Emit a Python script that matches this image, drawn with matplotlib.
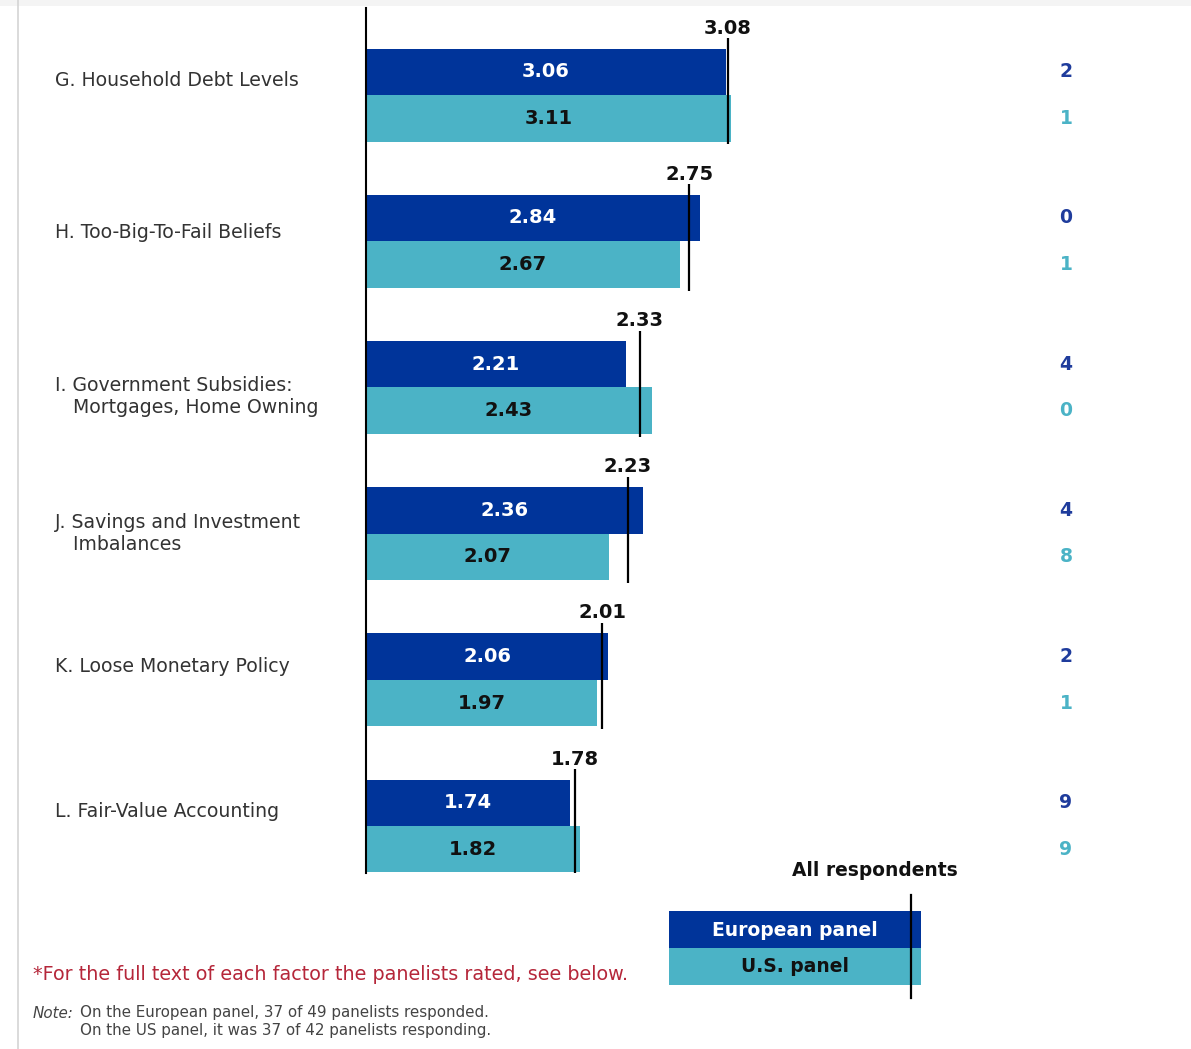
import matplotlib.pyplot as plt
from matplotlib.patches import Rectangle

plt.rcParams['font.family'] = ['DejaVu Sans']

# --- data ---
categories = ["G. Household Debt Levels",
              "H. Too-Big-To-Fail Beliefs",
              "I. Government Subsidies:\n   Mortgages, Home Owning",
              "J. Savings and Investment\n   Imbalances",
              "K. Loose Monetary Policy",
              "L. Fair-Value Accounting"]
european = [3.06, 2.84, 2.21, 2.36, 2.06, 1.74]
us_panel = [3.11, 2.67, 2.43, 2.07, 1.97, 1.82]
all_resp = [3.08, 2.75, 2.33, 2.23, 2.01, 1.78]
eu_count = [2, 0, 4, 4, 2, 9]
us_count = [1, 1, 0, 8, 1, 9]

EU_COL = '#00349a'
US_COL = '#4bb3c6'
EU_TXT = '#1f3c9c'

W, H = 1191, 1049
fig = plt.figure(figsize=(W / 100, H / 100), dpi=100)


def fx(px):
    return px / W


def fy(py):
    return 1 - py / H


# light page edges
fig.add_artist(Rectangle((0, fy(6)), 1, 6 / H, transform=fig.transFigure,
                         color='#f4f4f4', lw=0))
fig.add_artist(plt.Line2D([fx(17.5), fx(17.5)], [0, 1], transform=fig.transFigure,
                          color='#d4d4d4', lw=1.2))

# main axes: x zero at px 366, 117.5 px per unit
ax = fig.add_axes([fx(366), fy(873), 1 - fx(366), (873 - 8) / H])
ax.set_xlim(0, (W - 366) / 117.5)
gap = 146.2
ax.set_ylim((873 - 95) / gap, (8 - 95) / gap)
for s in ['top', 'right', 'bottom']:
    ax.spines[s].set_visible(False)
ax.spines['left'].set_linewidth(1.5)
ax.set_xticks([])
ax.set_yticks([])

bh = 46.5 / gap
ys = list(range(len(categories)))
ax.barh([y - bh / 2 for y in ys], european, height=bh, color=EU_COL)
ax.barh([y + bh / 2 for y in ys], us_panel, height=bh, color=US_COL)

label_off = [-0.1, -0.06, 0.06, 0.0, -0.09, -0.1]
tr = ax.get_yaxis_transform()
for y, e, u, a, ne, nu, cat, off in zip(ys, european, us_panel, all_resp,
                                        eu_count, us_count, categories, label_off):
    ax.text(e / 2, y - bh / 2, f"{e:.2f}", color='white', fontsize=14,
            fontweight='bold', ha='center', va='center')
    ax.text(u / 2, y + bh / 2, f"{u:.2f}", color='#111111', fontsize=14,
            fontweight='bold', ha='center', va='center')
    ax.vlines(a, y - bh - 0.07, y + bh + 0.02, color='black', lw=1.6)
    ax.text(a, y - bh - 0.14, f"{a:.2f}", color='#111111', fontsize=14,
            fontweight='bold', ha='center', va='center')
    ax.text((1066 - 366) / (W - 366), y - bh / 2, str(ne), color=EU_TXT,
            fontsize=13.5, fontweight='bold', ha='center', va='center', transform=tr)
    ax.text((1066 - 366) / (W - 366), y + bh / 2, str(nu), color=US_COL,
            fontsize=13.5, fontweight='bold', ha='center', va='center', transform=tr)
    ax.text(-(366 - 55) / (W - 366), y + off, cat, color='#333333', fontsize=13.6,
            ha='left', va='center', transform=tr, linespacing=1.22, clip_on=False)

# legend
fig.add_artist(Rectangle((fx(669), fy(948)), fx(921) - fx(669), 37 / H,
                         transform=fig.transFigure, color=EU_COL, lw=0))
fig.add_artist(Rectangle((fx(669), fy(985)), fx(921) - fx(669), 37 / H,
                         transform=fig.transFigure, color=US_COL, lw=0))
fig.add_artist(plt.Line2D([fx(911), fx(911)], [fy(998), fy(895)],
                          transform=fig.transFigure, color='black', lw=1.6))
fig.text(fx(795), fy(930), "European panel", color='white', fontsize=13.5,
         fontweight='bold', ha='center', va='center')
fig.text(fx(795), fy(967), "U.S. panel", color='#111111', fontsize=13.5,
         fontweight='bold', ha='center', va='center')
fig.text(fx(875), fy(871), "All respondents", color='#111111', fontsize=13.4,
         fontweight='bold', ha='center', va='center')

# footnotes
fig.text(fx(33), fy(975), "*For the full text of each factor the panelists rated, see below.",
         color='#b5273a', fontsize=13.8, ha='left', va='center')
fig.text(fx(33), fy(1013), "Note:", color='#444444', fontsize=10.9,
         style='italic', ha='left', va='center')
fig.text(fx(80), fy(1013), "On the European panel, 37 of 49 panelists responded.",
         color='#444444', fontsize=10.9, ha='left', va='center')
fig.text(fx(80), fy(1031), "On the US panel, it was 37 of 42 panelists responding.",
         color='#444444', fontsize=10.9, ha='left', va='center')

fig.savefig('out.png', dpi=100)
